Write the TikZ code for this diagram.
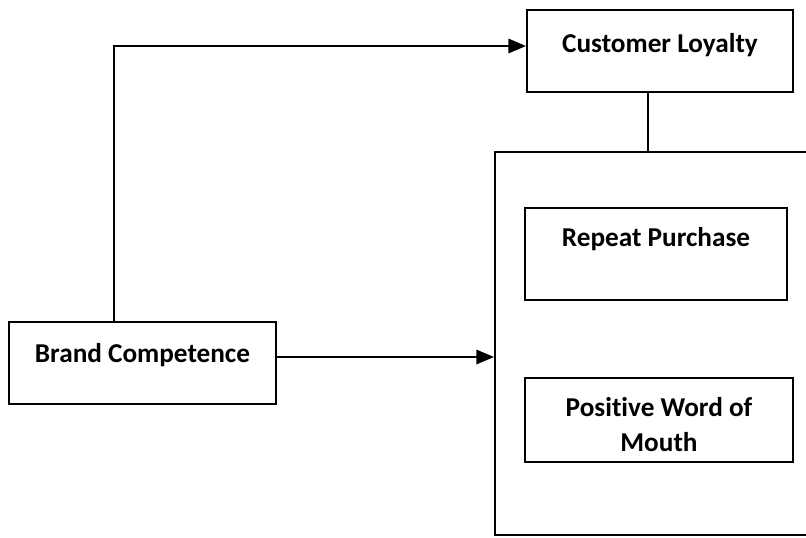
\documentclass[tikz,border=0pt]{standalone}
\usepackage{fontspec}
\setmainfont{Carlito}[Ligatures=NoCommon]
\usetikzlibrary{arrows.meta, positioning, calc}

\begin{document}
\begin{tikzpicture}[
  x=0.02cm, y=-0.02cm,
  box/.style   = {draw, line width=1.1pt, align=center,
                  font=\bfseries\fontsize{15.5}{20}\selectfont},
  group/.style = {draw, line width=1.1pt},
  arrow/.style = {line width=1.5pt, -{Triangle[length=10pt, width=8pt]}}
]
\useasboundingbox (0,0) rectangle (806,538);

%--------------------------------------------------
% Loyalty side (boxes)
%--------------------------------------------------
\node[box, minimum width=5.32cm, minimum height=1.64cm, text height=0.7em, text depth=5.1pt] (loyalty)
  at (660,51) {Customer Loyalty};

% outer frame, runs off the right edge
\node[group, minimum width=6.7cm, minimum height=7.66cm] (dimensions)
  at (662.5,343.5) {};

\node[box, minimum width=5.24cm, minimum height=1.84cm, text height=0.7em, text depth=15.7pt] (repeat)
  at (656,254) {Repeat Purchase};

\node[box, minimum width=5.36cm, minimum height=1.68cm, text height=36pt] (wom)
  at (659,420) {Positive Word of\\Mouth};

%--------------------------------------------------
% Driver
%--------------------------------------------------
\node[box, minimum width=5.34cm, minimum height=1.64cm, text height=0.7em, text depth=7.6pt] (brand)
  at (142.5,363) {Brand Competence};

%--------------------------------------------------
% Connections
%--------------------------------------------------
\draw[arrow] ([xshift=-0.57cm]brand.north) |- ([yshift=0.1cm]loyalty.west);

\draw[arrow] ([yshift=0.12cm]brand.east) -- ([yshift=0.12cm]brand.east -| dimensions.west);

\draw[line width=1.1pt] ([xshift=-0.24cm]loyalty.south)
  -- ([xshift=-0.24cm]loyalty.south |- dimensions.north);

\end{tikzpicture}
\end{document}
